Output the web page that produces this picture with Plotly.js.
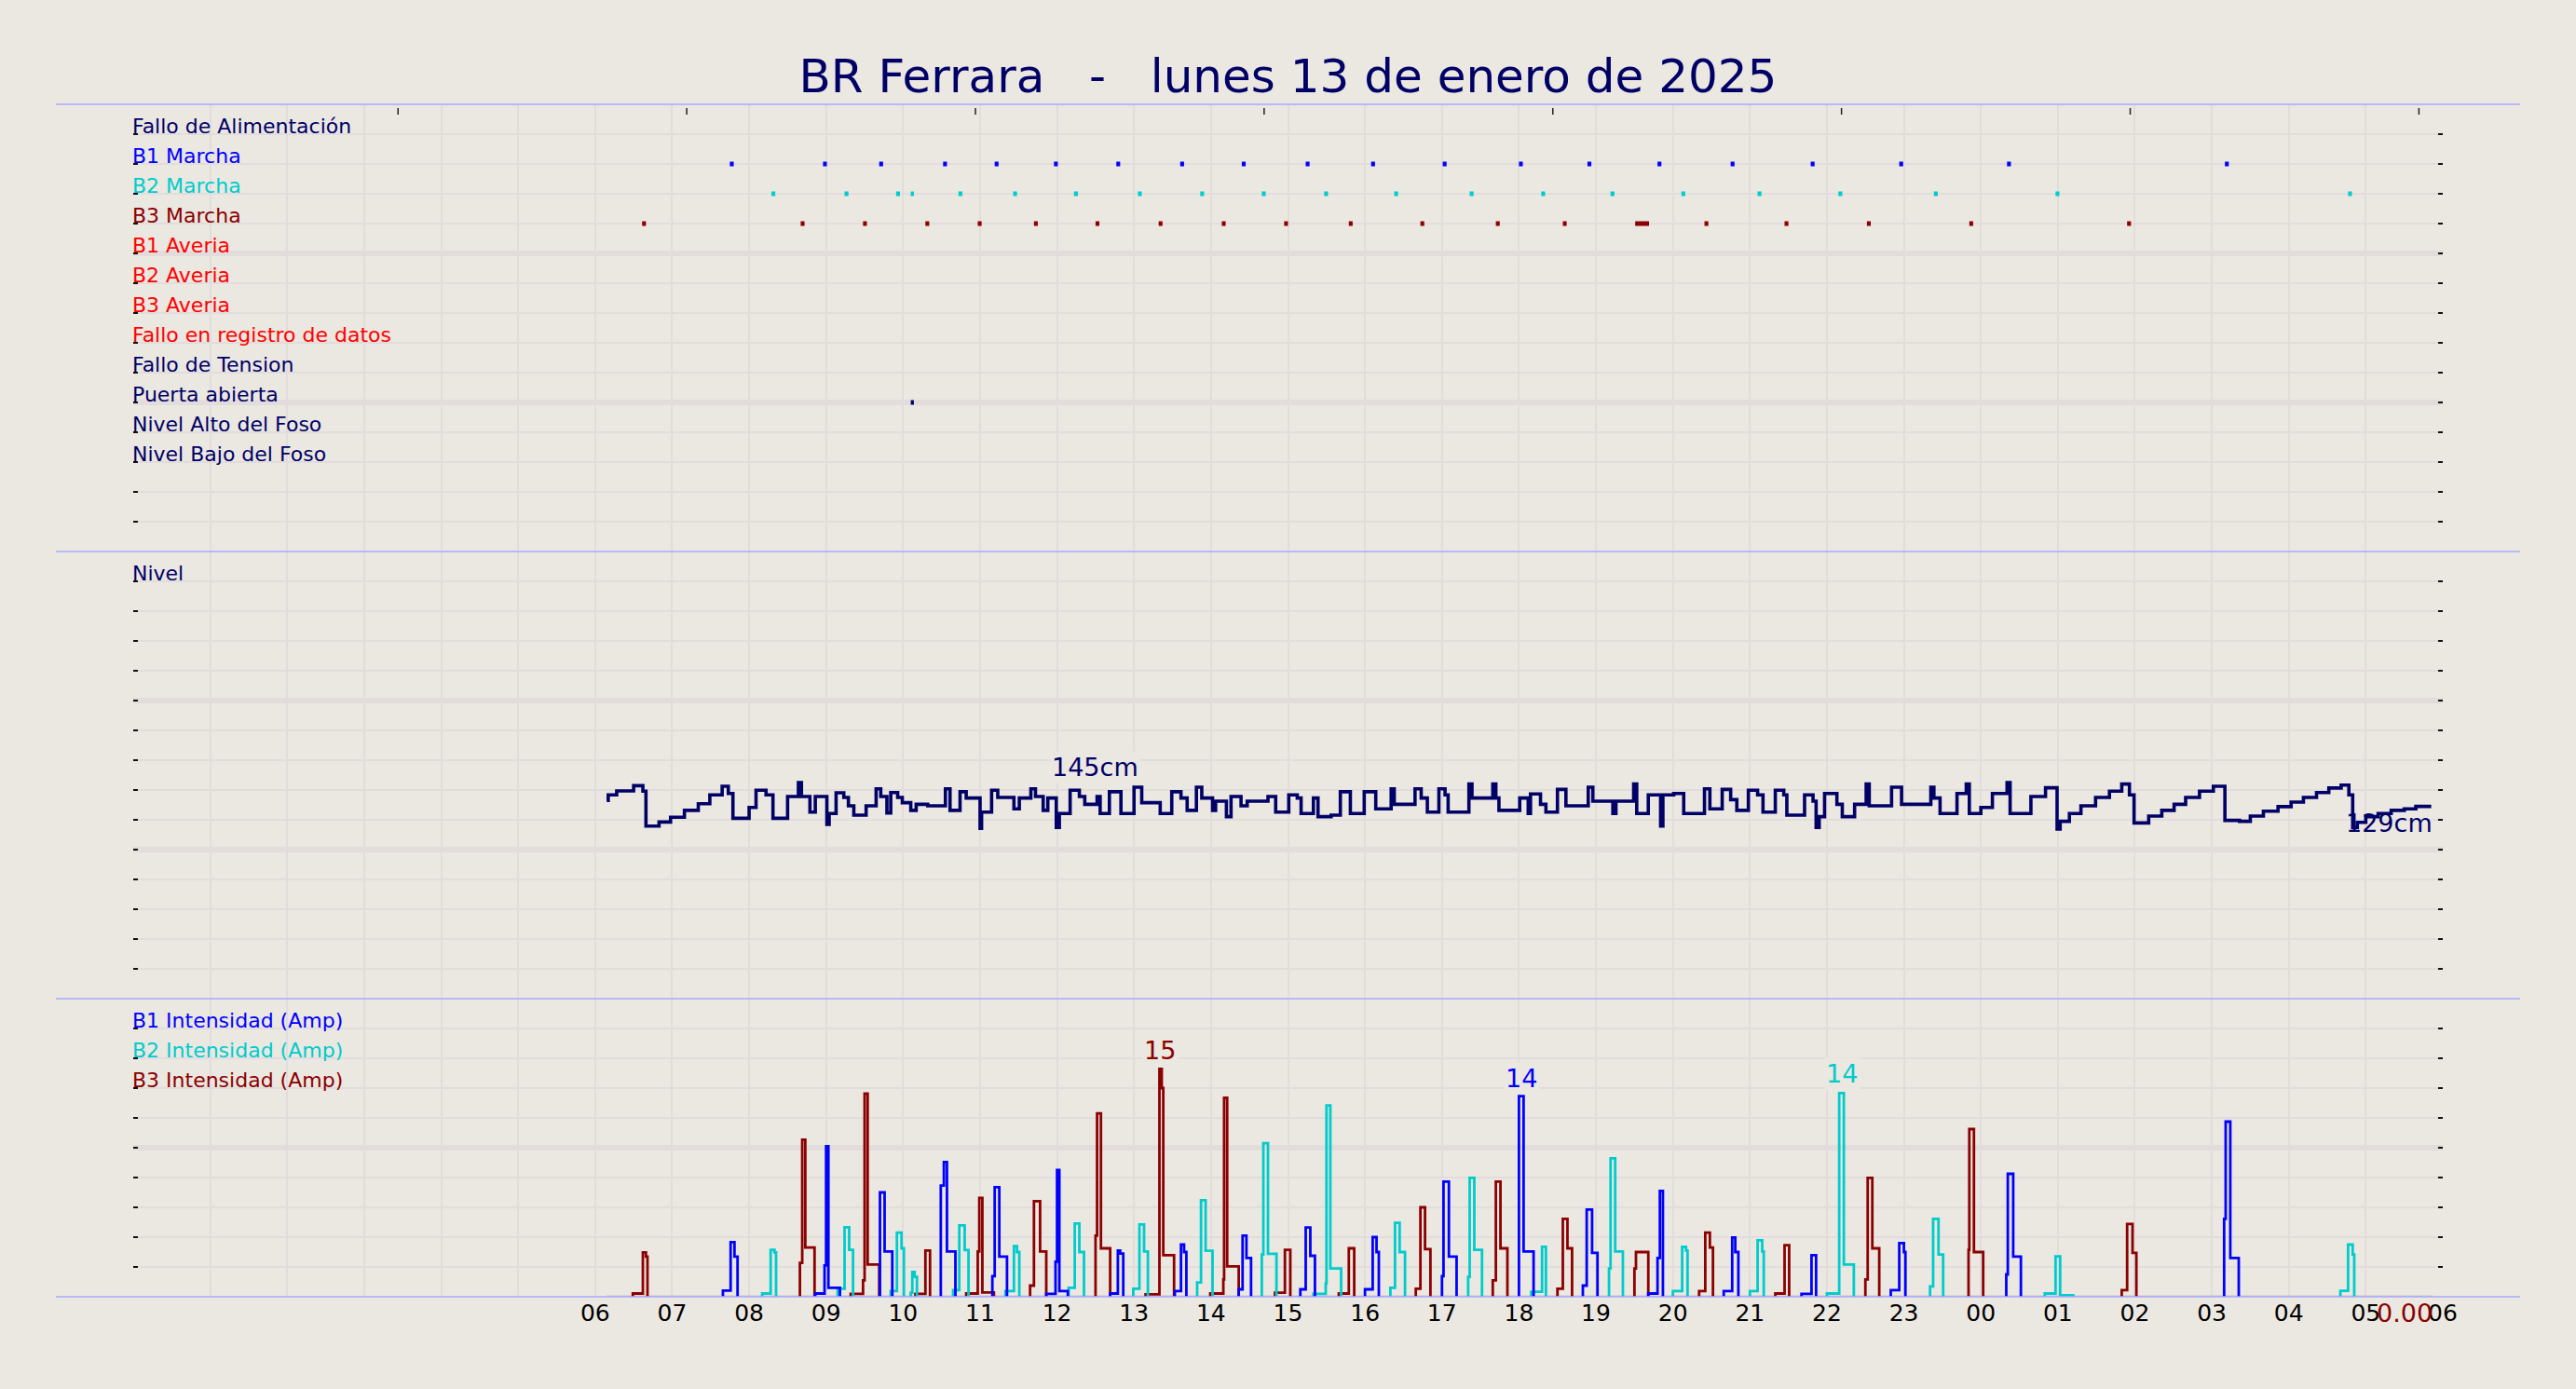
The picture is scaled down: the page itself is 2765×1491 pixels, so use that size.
<!DOCTYPE html>
<html><head><meta charset="utf-8">
<script src="https://cdn.plot.ly/plotly-3.0.1.min.js"></script>
<style>html,body{margin:0;padding:0;background:#ebe7e1;}#chart{width:2765px;height:1491px;}</style>
</head><body><div id="chart"></div>
<script>
// ---------- DATA ----------
const titleText = 'BR Ferrara\u00a0\u00a0\u00a0-\u00a0\u00a0\u00a0lunes 13 de enero de 2025';
const tickHours = [0,1,2,3,4,5,6,7,8,9,10,11,12,13,14,15,16,17,18,19,20,21,22,23,24,25,26,27,28,29,30];
const tickText  = ['','','','','','','06','07','08','09','10','11','12','13','14','15','16','17','18','19','20','21','22','23','00','01','02','03','04','05','06'];
const topTicks  = [3.44,7.19,10.94,14.69,18.44,22.19,25.94,29.69];

const eventLabels = ['Fallo de Alimentación','B1 Marcha','B2 Marcha','B3 Marcha','B1 Averia','B2 Averia','B3 Averia','Fallo en registro de datos','Fallo de Tension','Puerta abierta','Nivel Alto del Foso','Nivel Bajo del Foso'];
const eventRows   = [14,13,12,11,10,9,8,7,6,5,4,3];
const eventColors = ['#000066','#0000ff','#00cccc','#8b0000','#ff0000','#ff0000','#ff0000','#ff0000','#000066','#000066','#000066','#000066'];

const b1MarchaOn  = [7.75,8.96,9.69,10.52,11.19,11.96,12.77,13.60,14.40,15.23,16.08,17.01,18.00,18.89,19.80,20.75,21.79,22.94,24.34,27.17];
const b1MarchaOff = [7.80,9.01,9.74,10.57,11.24,12.01,12.82,13.65,14.45,15.28,16.13,17.06,18.05,18.94,19.85,20.80,21.84,22.99,24.39,27.22];
const b2MarchaOn  = [8.29,9.24,9.91,10.10,10.72,11.43,12.22,13.05,13.86,14.66,15.47,16.38,17.36,18.29,19.19,20.11,21.10,22.15,23.39,24.97,28.77];
const b2MarchaOff = [8.34,9.29,9.96,10.14,10.77,11.48,12.27,13.10,13.91,14.71,15.52,16.43,17.41,18.34,19.24,20.16,21.15,22.20,23.44,25.02,28.82];
const b3MarchaOn  = [6.61,8.67,9.48,10.29,10.97,11.70,12.50,13.32,14.14,14.95,15.79,16.72,17.70,18.57,19.51,20.41,21.45,22.52,23.85,25.90];
const b3MarchaOff = [6.66,8.72,9.53,10.34,11.02,11.75,12.55,13.37,14.19,15.00,15.84,16.77,17.75,18.62,19.69,20.46,21.50,22.57,23.90,25.95];
const puertaOn  = [10.10];
const puertaOff = [10.14];

const levelT  = [6.15,6.17,6.28,6.50,6.62,6.66,6.83,6.98,7.16,7.34,7.49,7.65,7.73,7.79,8.00,8.09,8.22,8.31,8.50,8.64,8.68,8.79,8.86,9.01,9.04,9.13,9.23,9.29,9.36,9.52,9.65,9.71,9.79,9.84,9.93,9.99,10.10,10.17,10.32,10.55,10.61,10.74,10.82,11.00,11.02,11.15,11.23,11.44,11.51,11.66,11.72,11.82,11.88,11.99,12.03,12.17,12.29,12.36,12.52,12.56,12.68,12.83,13.00,13.10,13.34,13.49,13.61,13.69,13.81,13.88,14.02,14.06,14.20,14.26,14.39,14.47,14.74,14.84,15.01,15.12,15.17,15.33,15.39,15.56,15.68,15.81,15.99,16.14,16.34,16.38,16.65,16.73,16.81,16.96,17.04,17.08,17.35,17.39,17.66,17.70,17.74,18.01,18.12,18.15,18.28,18.35,18.50,18.61,18.90,18.96,19.22,19.26,19.49,19.53,19.68,19.84,19.87,20.01,20.14,20.41,20.48,20.64,20.75,20.83,20.98,21.10,21.17,21.33,21.44,21.48,21.71,21.82,21.86,21.90,21.97,22.13,22.20,22.36,22.51,22.55,22.84,22.97,23.35,23.39,23.47,23.69,23.81,23.85,24.00,24.15,24.34,24.38,24.65,24.84,24.99,25.03,25.15,25.30,25.49,25.67,25.83,25.93,25.99,26.18,26.35,26.51,26.66,26.84,27.02,27.17,27.36,27.50,27.67,27.86,28.03,28.19,28.36,28.52,28.68,28.78,28.83,28.89,29.00,29.16,29.33,29.50,29.65,29.85];
const levelCm = [133.0,136.7,139.4,142.9,139.2,115.8,118.5,121.7,126.3,130.8,136.7,142.5,137.7,121.0,128.3,139.8,136.7,121.0,135.6,145.0,135.6,125.2,135.6,116.9,124.2,138.1,135.0,129.4,123.1,129.4,140.8,135.6,124.6,138.3,135.0,131.5,126.3,130.4,129.4,140.8,126.3,138.8,134.6,114.2,125.2,139.8,135.0,127.3,134.6,140.8,135.6,126.3,134.6,114.8,124.2,139.8,135.6,130.4,135.6,124.2,138.8,124.2,141.9,131.5,124.2,138.8,134.6,126.3,141.9,134.6,126.3,132.5,122.1,135.6,129.4,132.5,135.6,125.2,136.7,134.6,124.2,134.6,122.1,123.1,138.8,124.2,138.8,127.3,140.8,130.4,140.8,134.6,125.2,140.8,136.7,125.2,144.0,134.6,144.0,134.6,126.3,134.6,124.2,137.3,130.4,125.2,140.4,129.4,141.9,132.5,124.2,132.5,144.0,124.2,136.7,115.8,136.7,137.7,124.2,140.8,127.3,140.4,133.5,126.3,139.8,136.7,125.2,139.8,136.7,123.1,136.7,132.5,114.8,122.1,137.7,130.4,122.1,130.4,144.0,129.4,141.9,130.4,141.9,134.6,124.2,137.7,144.0,124.2,128.3,137.7,145.0,124.2,135.6,141.5,113.8,119.0,124.2,129.4,135.0,139.2,144.0,136.7,117.9,122.5,126.3,130.4,135.0,139.2,142.5,119.6,119.0,122.5,125.8,128.8,131.9,135.0,138.3,141.3,143.3,136.7,114.8,118.3,122.1,124.2,126.3,127.3,129.0,129.0];

const b1T = [7.66,7.66,7.76,7.81,7.85,null, 8.86,8.86,8.98,9.00,9.03,9.18,null, 9.70,9.70,9.76,9.86,null, 10.49,10.49,10.53,10.57,10.68,null, 11.16,11.16,11.19,11.25,11.35,null, 11.86,11.86,11.98,12.00,12.03,12.14,null, 12.69,12.69,12.79,12.82,12.86,null, 13.53,13.53,13.61,13.65,13.68,null, 14.36,14.36,14.41,14.46,14.52,null, 15.16,15.16,15.23,15.29,15.35,null, 16.00,16.00,16.10,16.15,16.18,null, 17.00,17.00,17.02,17.09,17.19,null, 18.00,18.00,18.06,18.19,null, 18.83,18.83,18.88,18.95,19.02,null, 19.68,19.68,19.80,19.83,19.87,null, 20.66,20.66,20.77,20.81,20.85,null, 21.67,21.67,21.80,21.86,null, 22.83,22.83,22.94,23.00,23.02,null, 24.33,24.33,24.35,24.42,24.52,null, 27.16,27.16,27.18,27.24,27.35];
const b1A = [0,0.42,3.67,2.69,0,null, 0,0.22,2.1,10.1,0.6,0,null, 0,7.0,3.04,0,null, 0,7.46,9.04,3.04,0,null, 0,1.38,7.35,2.69,0,null, 0,0.19,2.35,8.5,0.38,0,null, 0,0.22,3.1,2.9,0,null, 0,0.38,3.5,3.0,0,null, 0,0.5,4.1,2.6,0,null, 0,0.5,4.65,2.75,0,null, 0,0.5,4.0,3.0,0,null, 0,1.38,7.73,2.69,0,null, 0,13.46,3.04,0,null, 0,0.75,5.85,2.94,0,null, 0,0.22,2.6,7.1,0,null, 0,0.38,3.98,3.0,0,null, 0,0.19,2.79,0,null, 0,0.44,3.6,3.0,0,null, 0,1.5,8.25,2.69,0,null, 0,5.23,11.75,2.6,0];

const b2T = [8.17,8.17,8.28,8.33,8.35,null, 9.15,9.15,9.24,9.30,9.35,null, 9.84,9.84,9.92,9.98,10.01,null, 10.10,10.10,10.12,10.15,10.18,null, 10.65,10.65,10.73,10.80,10.85,null, 11.33,11.33,11.44,11.48,11.51,null, 12.15,12.15,12.23,12.29,12.35,null, 12.99,12.99,13.07,13.13,13.18,null, 13.82,13.82,13.87,13.93,14.02,null, 14.66,14.66,14.68,14.74,14.85,null, 15.33,15.33,15.49,15.50,15.55,15.69,null, 16.33,16.33,16.39,16.45,16.52,null, 17.34,17.34,17.36,17.42,17.52,null, 18.16,18.16,18.30,18.35,null, 19.17,19.17,19.19,19.25,19.35,null, 20.00,20.00,20.12,20.17,20.19,null, 21.00,21.00,21.10,21.16,21.18,null, 22.00,22.00,22.16,22.22,22.35,null, 23.34,23.34,23.38,23.45,23.51,null, 24.83,24.83,24.97,25.03,25.20,null, 28.67,28.67,28.77,28.83,28.85];
const b2A = [0,0.22,3.15,2.98,0,null, 0,0.54,4.67,3.15,0,null, 0,0.38,4.3,3.25,0,null, 0,0.27,1.67,1.33,0,null, 0,0.44,4.79,3.13,0,null, 0,0.38,3.4,3.0,0,null, 0,0.6,4.92,3.0,0,null, 0,0.54,4.85,3.04,0,null, 0,0.96,6.48,3.08,0,null, 0,2.83,10.3,2.88,0,null, 0,0.19,0.9,12.83,1.9,0,null, 0,0.6,4.96,3.0,0,null, 0,1.33,7.98,3.15,0,null, 0,0.33,3.35,0,null, 0,1.9,9.29,3.04,0,null, 0,0.38,3.35,3.1,0,null, 0,0.38,3.79,3.04,0,null, 0,0.22,13.67,2.17,0,null, 0,0.69,5.23,2.83,0,null, 0,0.22,2.71,0.1,0,null, 0,0.4,3.5,2.83,0];

const b3T = [6.49,6.49,6.62,6.66,6.68,null, 8.66,8.66,8.69,8.73,8.85,null, 9.32,9.32,9.48,9.50,9.54,9.69,null, 10.16,10.16,10.29,10.35,null, 10.82,10.82,10.97,10.99,11.03,11.18,null, 11.65,11.65,11.70,11.78,11.86,null, 12.50,12.50,12.52,12.57,12.69,null, 13.15,13.15,13.33,13.36,13.38,13.52,null, 13.99,13.99,14.16,14.17,14.21,14.36,null, 14.83,14.83,14.96,15.03,null, 15.66,15.66,15.79,15.86,null, 16.66,16.66,16.72,16.78,16.85,null, 17.66,17.66,17.70,17.76,17.85,null, 18.50,18.50,18.57,18.63,18.69,null, 19.50,19.50,19.52,19.68,null, 20.34,20.34,20.42,20.48,20.52,null, 21.33,21.33,21.45,21.51,null, 22.50,22.50,22.53,22.59,22.68,null, 23.84,23.84,23.85,23.91,24.03,null, 25.83,25.83,25.90,25.97,26.02];
const b3A = [0,0.22,2.98,2.7,0,null, 0,2.27,10.54,3.31,0,null, 0,0.19,1.1,13.63,2.17,0,null, 0,0.19,3.1,0,null, 0,0.22,3.04,6.63,0.29,0,null, 0,0.75,6.42,3.04,0,null, 0,4.1,12.3,3.25,0,null, 0,0.17,15.29,14.0,2.79,0,null, 0,0.22,1.17,13.35,2.04,0,null, 0,0.27,3.15,0,null, 0,0.22,3.25,0,null, 0,0.54,6.0,3.2,0,null, 0,1.1,7.73,3.25,0,null, 0,0.54,5.23,3.25,0,null, 0,1.9,3.0,0,null, 0,0.38,4.3,3.3,0,null, 0,0.22,3.46,0,null, 0,1.17,7.98,3.25,0,null, 0,3.15,11.25,3.0,0,null, 0,0.44,4.88,2.94,0];

const dataStart = 6.15, dataEnd = 29.87;
const panelLabels = [
  {text:'Nivel', y:280, axis:'y2', color:'#000066'},
  {text:'B1 Intensidad (Amp)', y:18, axis:'y3', color:'#0000ff'},
  {text:'B2 Intensidad (Amp)', y:16, axis:'y3', color:'#00cccc'},
  {text:'B3 Intensidad (Amp)', y:14, axis:'y3', color:'#8b0000'}
];
const valueLabels = [
  {text:'145cm', x:12.5, y:155.6, axis:'2', color:'#000066', bg:true},
  {text:'129cm', x:29.31, y:118.1, axis:'2', color:'#000066', bg:false},
  {text:'15', x:13.33, y:16.56, axis:'3', color:'#8b0000', bg:true},
  {text:'14', x:18.03, y:14.66, axis:'3', color:'#0000ff', bg:true},
  {text:'14', x:22.19, y:14.94, axis:'3', color:'#00cccc', bg:true}
];
const lastLabel = {text:'0.00', x:29.5, color:'#8b0000'};

// ---------- STYLE ----------
const BG = '#ebe7e1', GRID = '#e2dddc', SEP = '#aaaaff', NAVY = '#000066';
const FONT = 'DejaVu Sans';

function segs(on, off, row){
  const x=[], y=[];
  for(let i=0;i<on.length;i++){ x.push(on[i], off[i], null); y.push(row,row,null); }
  return {x,y};
}
const traces = [];
[[b1MarchaOn,b1MarchaOff,13,'#0000ff'],[b2MarchaOn,b2MarchaOff,12,'#00cccc'],[b3MarchaOn,b3MarchaOff,11,'#8b0000'],[puertaOn,puertaOff,5,NAVY]].forEach(([on,off,row,c])=>{
  const s = segs(on,off,row);
  traces.push({x:s.x, y:s.y, xaxis:'x', yaxis:'y', mode:'lines', line:{color:c,width:5}, hoverinfo:'skip', showlegend:false});
});
traces.push({x:levelT, y:levelCm, xaxis:'x2', yaxis:'y2', mode:'lines', line:{shape:'hv', color:NAVY, width:3.6}, showlegend:false});
[[b3T,b3A,'#8b0000'],[b2T,b2A,'#00cccc'],[b1T,b1A,'#0000ff']].forEach(([t,a,c])=>{
  traces.push({x:t, y:a, xaxis:'x3', yaxis:'y3', mode:'lines', connectgaps:false, line:{shape:'hv', color:c, width:2.8}, showlegend:false});
});

const xBase = {range:[0,30], tickmode:'array', tickvals:tickHours, ticktext:tickText, showgrid:true, gridcolor:GRID, gridwidth:2, zeroline:false, showline:false, ticks:'', fixedrange:true};
function yAx(domain, range, major, minor){
  return {domain, range, tickmode:'linear', tick0:0, dtick:major, showticklabels:false, showgrid:true, gridcolor:GRID, gridwidth:6,
    zeroline:false, showline:false, ticks:'inside', ticklen:5, tickwidth:1.5, tickcolor:'#111', mirror:'ticks', fixedrange:true,
    minor:{tick0:0, dtick:minor, showgrid:true, gridcolor:GRID, gridwidth:2.5, ticks:'inside', ticklen:5, tickwidth:1.5, tickcolor:'#111'}};
}

const annotations = [];
eventLabels.forEach((t,i)=>annotations.push({text:t, xref:'paper', x:0, xanchor:'left', xshift:-3, yref:'y', y:eventRows[i], yanchor:'bottom', yshift:-6, showarrow:false, font:{family:FONT,size:22,color:eventColors[i]}}));
panelLabels.forEach(p=>annotations.push({text:p.text, xref:'paper', x:0, xanchor:'left', xshift:-3, yref:p.axis, y:p.y, yanchor:'bottom', yshift:-6, showarrow:false, font:{family:FONT,size:22,color:p.color}}));
valueLabels.forEach(v=>annotations.push({text:v.text, xref:'x'+v.axis, x:v.x, yref:'y'+v.axis, y:v.y, xanchor:'center', yanchor:'middle', showarrow:false, bgcolor: v.bg?BG:'rgba(0,0,0,0)', font:{family:FONT,size:27,color:v.color}}));
annotations.push({text:lastLabel.text, xref:'x3', x:lastLabel.x, yref:'paper', y:-0.014, xanchor:'center', yanchor:'middle', showarrow:false, font:{family:FONT,size:27,color:lastLabel.color}});

const shapes = [];
[1,0.625,0.25,0].forEach(py=>shapes.push({type:'line', xref:'paper', yref:'paper', x0:-0.0335, x1:1.0335, y0:py, y1:py, line:{color:SEP,width:1.5}, layer:'above'}));
shapes.push({type:'line', xref:'x', yref:'paper', x0:6, x1:6, y0:0, y1:1, line:{color:SEP,width:1.2}, layer:'between'});
shapes.push({type:'line', xref:'x3', yref:'y3', x0:dataStart, x1:dataEnd, y0:0.05, y1:0.05, line:{color:'#c9c3cc',width:1.5}, layer:'between'});
topTicks.forEach(t=>shapes.push({type:'line', xref:'x', yref:'paper', x0:t, x1:t, y0:0.9969, y1:0.9914, line:{color:'#222',width:1.5}, layer:'above'}));

const layout = {
  width:2765, height:1491, paper_bgcolor:BG, plot_bgcolor:BG,
  margin:{l:143, r:143, t:112, b:99, pad:0},
  font:{family:FONT, color:'#000'},
  title:{text:titleText, font:{family:FONT, size:50, color:NAVY}, x:0.5, xanchor:'center', xref:'paper', y:1-81/1491, yref:'container', yanchor:'middle'},
  showlegend:false,
  xaxis:Object.assign({}, xBase, {anchor:'y', showticklabels:false}),
  xaxis2:Object.assign({}, xBase, {anchor:'y2', showticklabels:false}),
  xaxis3:Object.assign({}, xBase, {anchor:'y3', showticklabels:true, tickfont:{family:FONT,size:25,color:'#000'}}),
  yaxis:yAx([0.625,1],[0,15],5,1),
  yaxis2:yAx([0.25,0.625],[0,300],100,20),
  yaxis3:yAx([0,0.25],[0,20],10,2),
  annotations, shapes
};
Plotly.newPlot('chart', traces, layout, {staticPlot:true, displayModeBar:false});
</script></body></html>
